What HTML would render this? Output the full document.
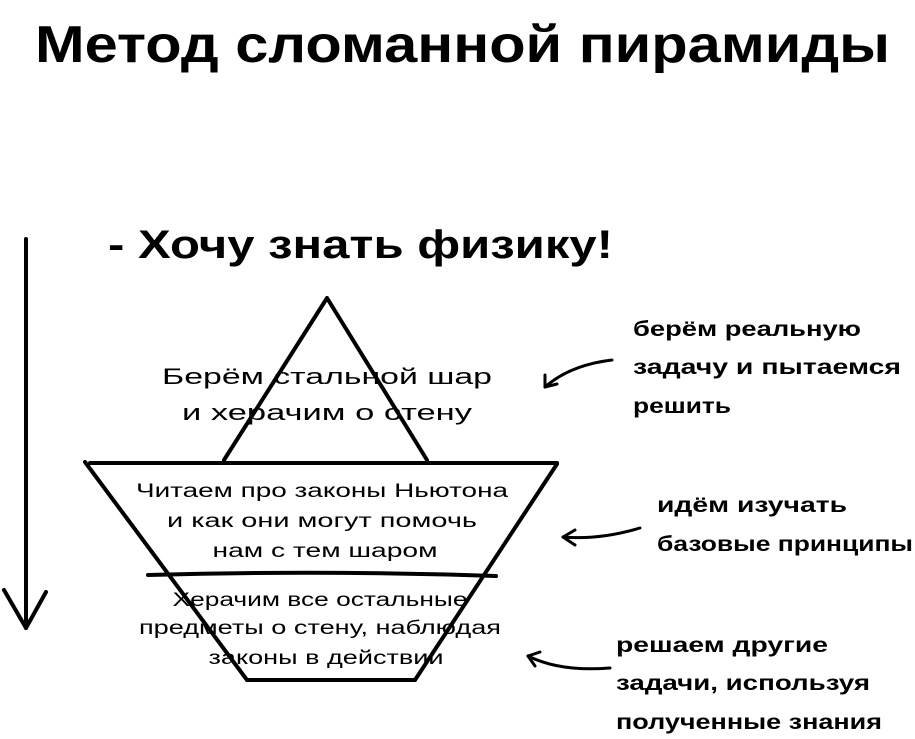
<!DOCTYPE html>
<html><head><meta charset="utf-8"><style>
html,body{margin:0;padding:0;background:#fff;}
svg{display:block}
text{font-family:"Liberation Sans",sans-serif;fill:#000}
</style></head><body>
<svg width="915" height="739" viewBox="0 0 915 739" xmlns="http://www.w3.org/2000/svg">
<text x="35" y="62" font-size="52" font-weight="bold" textLength="855" lengthAdjust="spacingAndGlyphs">Метод сломанной пирамиды</text>
<text x="108" y="258" font-size="40" font-weight="bold" textLength="505" lengthAdjust="spacingAndGlyphs">- Хочу знать физику!</text>
<g stroke="#000" stroke-width="4" fill="none" stroke-linecap="round" stroke-linejoin="round">
<line x1="26" y1="239" x2="26" y2="628"/>
<polyline points="4,590 26,628 46,592"/>
<polyline points="224,460 327,298 427,460"/>
<line x1="90" y1="463" x2="557" y2="463"/>
<line x1="85" y1="462" x2="247" y2="680"/>
<line x1="557" y1="464" x2="415" y2="680"/>
<path d="M148,575 Q320,570 496,576"/>
<line x1="247" y1="680" x2="415" y2="680"/>
<path d="M612,360 Q570,365 545,387" stroke-width="3"/>
<polyline points="545,375 545,387 557,384" stroke-width="3"/>
<path d="M640,528 Q600,540 563,537" stroke-width="3"/>
<polyline points="575,530 563,537 575,545" stroke-width="3"/>
<path d="M610,668 Q560,672 528,656" stroke-width="3"/>
<polyline points="540,652 528,656 535,666" stroke-width="3"/>
</g>
<g font-size="22" text-anchor="middle">
<text x="327" y="384" textLength="330" lengthAdjust="spacingAndGlyphs">Берём стальной шар</text>
<text x="327" y="420" textLength="290" lengthAdjust="spacingAndGlyphs">и херачим о стену</text>
</g>
<g font-size="19" text-anchor="middle">
<text x="322" y="497" textLength="372" lengthAdjust="spacingAndGlyphs">Читаем про законы Ньютона</text>
<text x="322" y="527" textLength="310" lengthAdjust="spacingAndGlyphs">и как они могут помочь</text>
<text x="325" y="557" textLength="225" lengthAdjust="spacingAndGlyphs">нам с тем шаром</text>
<text x="320" y="606" textLength="295" lengthAdjust="spacingAndGlyphs">Херачим все остальные</text>
<text x="320" y="634" textLength="362" lengthAdjust="spacingAndGlyphs">предметы о стену, наблюдая</text>
<text x="326" y="664" textLength="235" lengthAdjust="spacingAndGlyphs">законы в действии</text>
</g>
<g font-size="21" font-weight="bold">
<text x="633" y="336" textLength="228" lengthAdjust="spacingAndGlyphs">берём реальную</text>
<text x="633" y="374" textLength="268" lengthAdjust="spacingAndGlyphs">задачу и пытаемся</text>
<text x="633" y="413" textLength="98" lengthAdjust="spacingAndGlyphs">решить</text>
<text x="657" y="512" textLength="190" lengthAdjust="spacingAndGlyphs">идём изучать</text>
<text x="657" y="551" textLength="256" lengthAdjust="spacingAndGlyphs">базовые принципы</text>
<text x="616" y="652" textLength="212" lengthAdjust="spacingAndGlyphs">решаем другие</text>
<text x="616" y="690" textLength="254" lengthAdjust="spacingAndGlyphs">задачи, используя</text>
<text x="616" y="729" textLength="266" lengthAdjust="spacingAndGlyphs">полученные знания</text>
</g>
</svg>
</body></html>
